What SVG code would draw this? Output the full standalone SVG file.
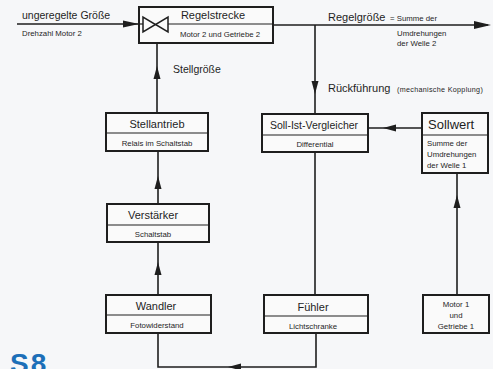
<svg xmlns="http://www.w3.org/2000/svg" width="493" height="369" viewBox="0 0 493 369">
<style>
.bx{fill:#fafafa;stroke:#1e1e1e;stroke-width:2}
.dv{stroke:#1e1e1e;stroke-width:1.2;fill:none}
.ln{stroke:#1e1e1e;stroke-width:1.6;fill:none}
.ah{fill:#1e1e1e}
text{font-family:"Liberation Sans",Arial,sans-serif;fill:#1e1e1e}
.t{font-size:11px;text-anchor:middle}
.s{font-size:7.8px;text-anchor:middle}
.sl{font-size:7.8px}
</style>
<rect width="493" height="369" fill="#f6f7f9"/>
<g id="connectors">
  <line class="ln" x1="17" y1="24" x2="139" y2="24"/>
  <polygon class="ah" points="139,24 123,20.5 123,27.5"/>
  <line class="ln" x1="273" y1="25" x2="488" y2="25"/>
  <polygon class="ah" points="491,25 474,21 474,29"/>
  <line class="ln" x1="157" y1="113" x2="157" y2="25"/>
  <polygon class="ah" points="157,66 153.5,79 160.5,79"/>
  <line class="ln" x1="158" y1="204" x2="158" y2="151"/>
  <polygon class="ah" points="158,176 154.5,189 161.5,189"/>
  <line class="ln" x1="158" y1="295" x2="158" y2="242"/>
  <polygon class="ah" points="158,262 154.5,275 161.5,275"/>
  <polyline class="ln" points="316,333 316,367 158,367 158,333"/>
  <polygon class="ah" points="228,367 241,363.5 241,370.5"/>
  <line class="ln" x1="315" y1="25" x2="315" y2="114"/>
  <polygon class="ah" points="315,94 311.5,81 318.5,81"/>
  <line class="ln" x1="315" y1="152" x2="315" y2="295"/>
  <line class="ln" x1="422" y1="128" x2="368" y2="128"/>
  <polygon class="ah" points="383,128 396,124.5 396,131.5"/>
  <line class="ln" x1="457" y1="295" x2="457" y2="173"/>
  <polygon class="ah" points="457,195 453.5,208 460.5,208"/>
</g>
<g id="input-label">
  <text x="22" y="19" style="font-size:10.5px">ungeregelte Größe</text>
  <text x="22" y="36" class="sl">Drehzahl Motor 2</text>
</g>
<g id="regelstrecke">
  <rect class="bx" x="139" y="7" width="134" height="36"/>
  <line class="dv" x1="139" y1="24" x2="143" y2="24"/>
  <line class="dv" x1="168" y1="24" x2="273" y2="24"/>
  <polygon points="143,17 143,32 155.5,24.5" fill="none" stroke="#1e1e1e" stroke-width="1.5"/>
  <polygon points="168,17 168,32 155.5,24.5" fill="none" stroke="#1e1e1e" stroke-width="1.5"/>
  <text x="213" y="19" class="t">Regelstrecke</text>
  <text x="220" y="37" class="s">Motor 2 und Getriebe 2</text>
</g>
<g id="output-label">
  <text x="328" y="21" style="font-size:11px">Regelgröße</text>
  <text x="390" y="21" class="sl">= Summe der</text>
  <text x="397" y="36" class="sl">Umdrehungen</text>
  <text x="397" y="46" class="sl">der Welle 2</text>
</g>
<g id="stellgroesse-label">
  <text x="173" y="73" style="font-size:10.5px">Stellgröße</text>
</g>
<g id="rueckfuehrung-label">
  <text x="328" y="92" style="font-size:11px">Rückführung</text>
  <text x="397" y="92" style="font-size:7.2px;letter-spacing:0.3px">(mechanische Kopplung)</text>
</g>
<g id="stellantrieb">
  <rect class="bx" x="106" y="113" width="102" height="38"/>
  <line class="dv" x1="106" y1="133" x2="208" y2="133"/>
  <text x="157" y="128" class="t">Stellantrieb</text>
  <text x="157" y="146" class="s">Relais im Schaltstab</text>
</g>
<g id="vergleicher">
  <rect class="bx" x="262" y="114" width="106" height="38"/>
  <line class="dv" x1="262" y1="135" x2="368" y2="135"/>
  <text x="314" y="129" class="t" style="font-size:10.5px">Soll-Ist-Vergleicher</text>
  <text x="315" y="147" class="s">Differential</text>
</g>
<g id="sollwert">
  <rect class="bx" x="422" y="113" width="66" height="60"/>
  <line class="dv" x1="422" y1="135" x2="488" y2="135"/>
  <text x="428" y="129" style="font-size:13px">Sollwert</text>
  <text x="427" y="146" class="sl">Summe der</text>
  <text x="427" y="157" class="sl">Umdrehungen</text>
  <text x="427" y="168" class="sl">der Welle 1</text>
</g>
<g id="verstaerker">
  <rect class="bx" x="107" y="204" width="102" height="38"/>
  <line class="dv" x1="107" y1="225" x2="209" y2="225"/>
  <text x="153" y="219" class="t">Verstärker</text>
  <text x="153" y="237" class="s">Schaltstab</text>
</g>
<g id="wandler">
  <rect class="bx" x="106" y="295" width="105" height="38"/>
  <line class="dv" x1="106" y1="315" x2="211" y2="315"/>
  <text x="156" y="310" class="t">Wandler</text>
  <text x="157" y="328" class="s">Fotowiderstand</text>
</g>
<g id="fuehler">
  <rect class="bx" x="264" y="295" width="104" height="38"/>
  <line class="dv" x1="264" y1="316" x2="368" y2="316"/>
  <text x="313" y="311" class="t">Fühler</text>
  <text x="313" y="329" class="s">Lichtschranke</text>
</g>
<g id="motor">
  <rect class="bx" x="423" y="295" width="66" height="38"/>
  <text x="456" y="307" class="s">Motor 1</text>
  <text x="456" y="318" class="s">und</text>
  <text x="456" y="329" class="s">Getriebe 1</text>
</g>
<text x="10" y="373" style="font-size:28px;font-weight:bold;letter-spacing:2px;fill:#1c6fb8">S8</text>
</svg>
